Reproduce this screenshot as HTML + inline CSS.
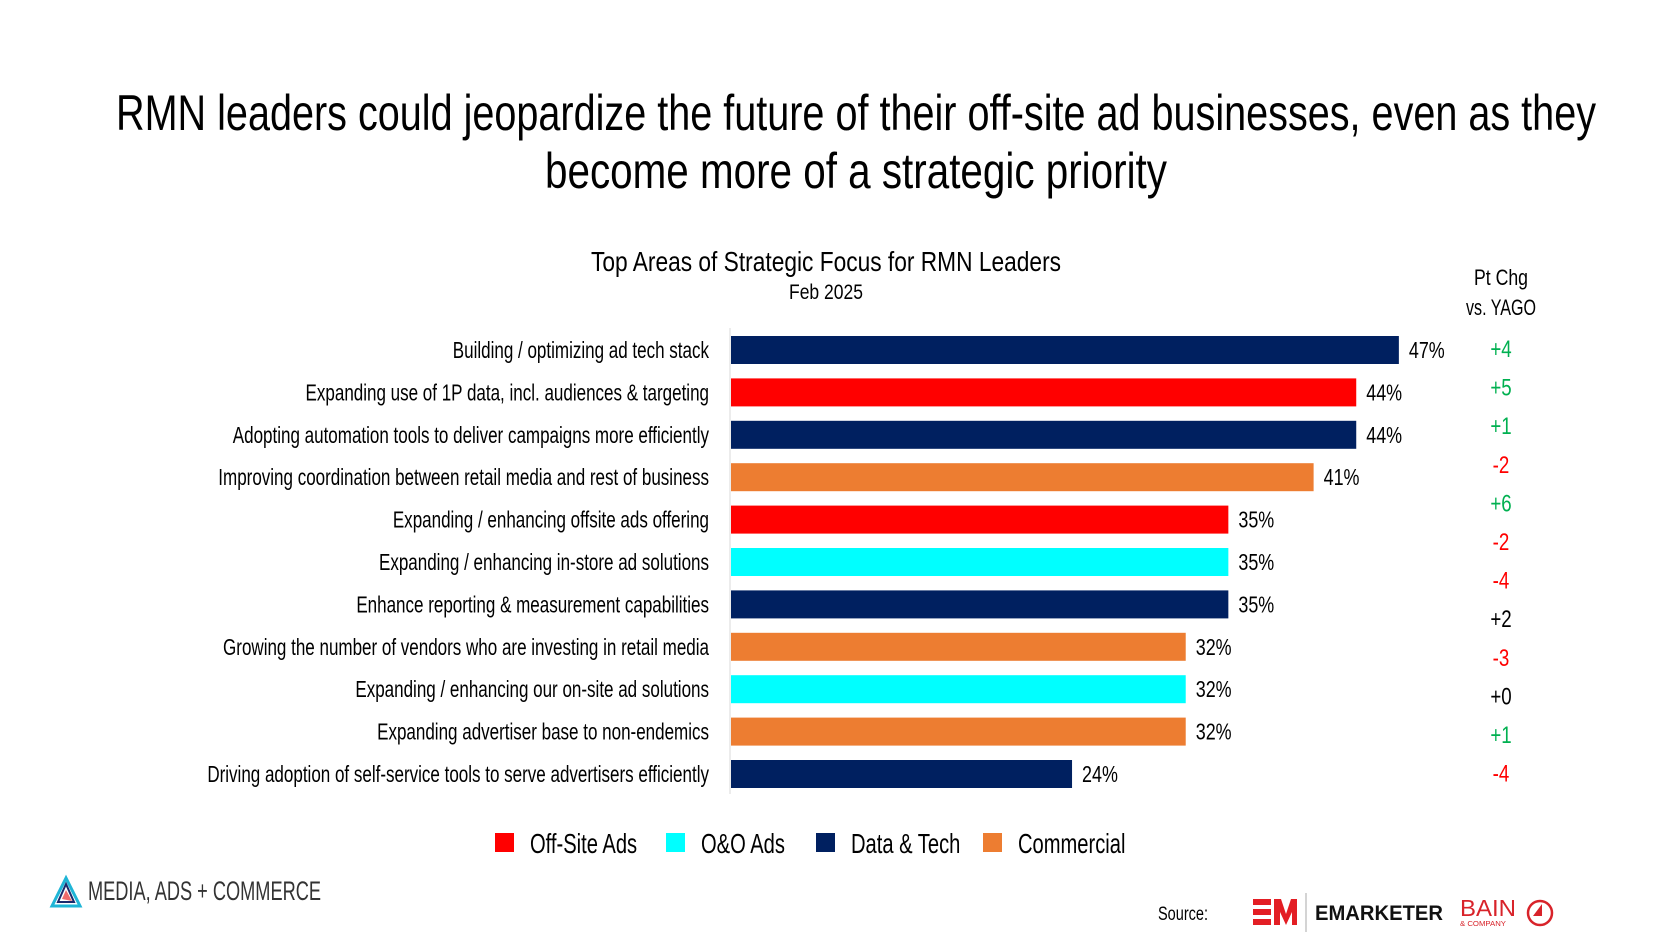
<!DOCTYPE html>
<html><head><meta charset="utf-8"><style>
html,body{margin:0;padding:0;background:#fff;}
svg{display:block;font-family:"Liberation Sans Narrow","Liberation Sans",sans-serif;}
</style></head><body>
<svg id="chart" width="1674" height="938" viewBox="0 0 1674 938">
<text x="856" y="130" text-anchor="middle" font-size="50" textLength="1480" lengthAdjust="spacingAndGlyphs" fill="#000">RMN leaders could jeopardize the future of their off-site ad businesses, even as they</text>
<text x="856" y="188" text-anchor="middle" font-size="50" textLength="622" lengthAdjust="spacingAndGlyphs" fill="#000">become more of a strategic priority</text>
<text x="826" y="271" text-anchor="middle" font-size="28" textLength="470" lengthAdjust="spacingAndGlyphs">Top Areas of Strategic Focus for RMN Leaders</text>
<text x="826" y="299" text-anchor="middle" font-size="21" textLength="74" lengthAdjust="spacingAndGlyphs">Feb 2025</text>
<text x="1501" y="285" text-anchor="middle" font-size="22" textLength="54" lengthAdjust="spacingAndGlyphs">Pt Chg</text>
<text x="1501" y="315" text-anchor="middle" font-size="22" textLength="70" lengthAdjust="spacingAndGlyphs">vs. YAGO</text>
<line x1="730" y1="328" x2="730" y2="794" stroke="#d9d9d9" stroke-width="1"/>
<g id="bars"></g>
<g id="legend"></g>
<g>
<polygon points="66,878 52,906 80,906" fill="none" stroke="#1fb5d6" stroke-width="3"/>
<polygon points="66,884 58,902 74,902" fill="none" stroke="#1a2a6c" stroke-width="2"/>
<polygon points="66,890 62,899 72,901" fill="#f06a6a"/>
<text x="88" y="900" font-size="27" fill="#333" textLength="233" lengthAdjust="spacingAndGlyphs">MEDIA, ADS + COMMERCE</text>
</g>
<text x="1158" y="920" font-size="19" textLength="50" lengthAdjust="spacingAndGlyphs">Source:</text>
<g>
<rect x="1253" y="899" width="18" height="6" fill="#e31e24"/><rect x="1253" y="909" width="18" height="6" fill="#e31e24"/><rect x="1253" y="919" width="18" height="6" fill="#e31e24"/>
<polygon points="1274,899 1281,899 1286,914 1291,899 1297,899 1297,925 1292,925 1292,912 1286,925 1280,912 1280,925 1274,925" fill="#e31e24"/>
<line x1="1306" y1="893" x2="1306" y2="932" stroke="#aaa"/>
<text x="1315" y="920" font-size="21" font-weight="bold" textLength="128" lengthAdjust="spacingAndGlyphs" fill="#111">EMARKETER</text>
</g>
<g>
<text x="1460" y="916" font-size="23" fill="#d8232a" textLength="56" lengthAdjust="spacingAndGlyphs">BAIN</text>
<text x="1460" y="926" font-size="7" fill="#d8232a" textLength="46" lengthAdjust="spacingAndGlyphs">&amp; COMPANY</text>
<circle cx="1540" cy="913" r="12" fill="none" stroke="#d8232a" stroke-width="2.5"/>
<polygon points="1542,904 1542,916 1533,916" fill="#d8232a"/>
</g>
</svg>
<script>
const categories=["Building / optimizing ad tech stack","Expanding use of 1P data, incl. audiences & targeting","Adopting automation tools to deliver campaigns more efficiently","Improving coordination between retail media and rest of business","Expanding / enhancing offsite ads offering","Expanding / enhancing in-store ad solutions","Enhance reporting & measurement capabilities","Growing the number of vendors who are investing in retail media","Expanding / enhancing our on-site ad solutions","Expanding advertiser base to non-endemics","Driving adoption of self-service tools to serve advertisers efficiently"];
const values=[47,44,44,41,35,35,35,32,32,32,24];
const groups=["data","offsite","data","commercial","offsite","oo","data","commercial","oo","commercial","data"];
const changes=["+4","+5","+1","-2","+6","-2","-4","+2","-3","+0","+1","-4"];
const changeColors=["g","g","g","r","g","r","r","k","r","k","g","r"];
const legendKeys=["offsite","oo","data","commercial"];
const legendLabels=["Off-Site Ads","O&O Ads","Data & Tech","Commercial"];
const colorMap={offsite:"#ff0000",oo:"#00ffff",data:"#002060",commercial:"#ed7d31"};
const chgColorMap={g:"#00b050",r:"#ff0000",k:"#000"};
const NS="http://www.w3.org/2000/svg";
const x0=731, pxPer=14.21, barH=28;
const xs=v=>x0+v*pxPer;
const ys=i=>350+i*42.4;
const g=document.getElementById('bars');
function mk(t,a){const e=document.createElementNS(NS,t);for(const k in a)e.setAttribute(k,a[k]);return e;}
categories.forEach((c,i)=>{
  const y=ys(i);
  const lab=mk('text',{x:0,y:0,'text-anchor':'end','font-size':23,transform:`translate(709,${y+8}) scale(0.74,1)`});
  lab.textContent=c;
  
  
  g.appendChild(lab);
  const r=mk('rect',{x:x0,y:y-barH/2,width:xs(values[i])-x0,height:barH,fill:colorMap[groups[i]]});
  
  
  g.appendChild(r);
  const v=mk('text',{x:0,y:0,'font-size':23,transform:`translate(${xs(values[i])+10},${y+8}) scale(0.78,1)`});
  v.textContent=values[i]+'%';
  
  
  g.appendChild(v);
});
changes.forEach((c,i)=>{
  const y=349+i*38.6;
  const t=mk('text',{x:0,y:0,'text-anchor':'middle','font-size':24,fill:chgColorMap[changeColors[i]],transform:`translate(1501,${y+8}) scale(0.78,1)`});
  t.textContent=c;
  
  
  g.appendChild(t);
});
const lg=document.getElementById('legend');
const lx=[495,666,816,983];
legendKeys.forEach((k,i)=>{
  const s=mk('rect',{x:lx[i],y:833,width:19,height:19,fill:colorMap[k]});
  
  
  lg.appendChild(s);
  const t=mk('text',{x:0,y:0,'font-size':28,transform:`translate(${lx[i]+35},853) scale(0.72,1)`});
  t.textContent=legendLabels[i];
  
  
  lg.appendChild(t);
});
</script>
</body></html>
